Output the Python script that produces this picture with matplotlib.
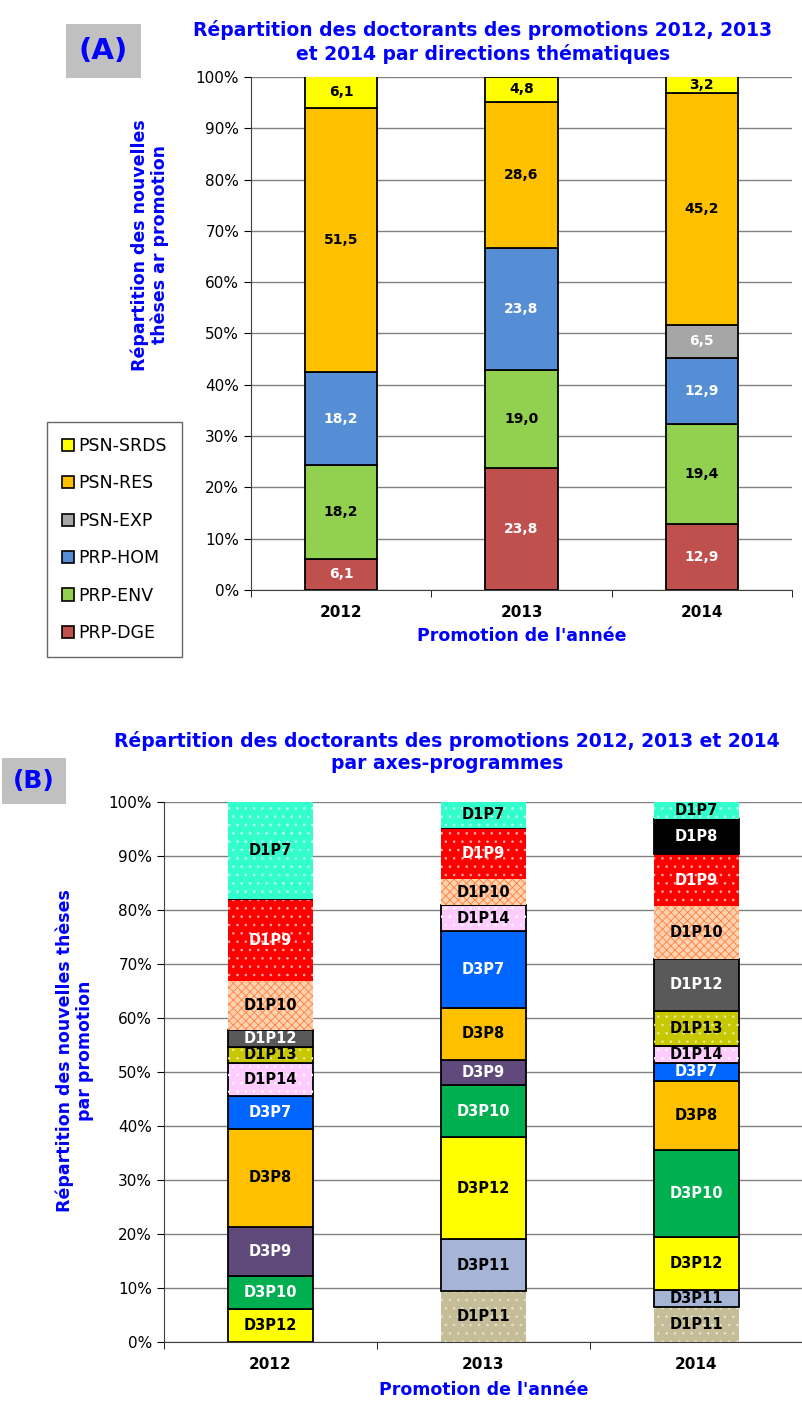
import matplotlib
matplotlib.use("Agg")
import matplotlib.pyplot as plt
import numpy as np
from matplotlib.patches import Patch

# ---- data, panel A (percent of each promotion)
years = ["2012", "2013", "2014"]
prp_dge = [6.1, 23.8, 12.9]
prp_env = [18.2, 19.0, 19.4]
prp_hom = [18.2, 23.8, 12.9]
psn_exp = [0.0, 0.0, 6.5]
psn_res = [51.5, 28.6, 45.2]
psn_srds = [6.1, 4.8, 3.2]

# ---- data, panel B (percent of each promotion), bottom to top
d1p11 = [0.0, 9.5, 6.5]
d3p11 = [0.0, 9.5, 3.2]
d3p12 = [6.1, 19.0, 9.7]
d3p10 = [6.1, 9.5, 16.1]
d3p9 = [9.1, 4.8, 0.0]
d3p8 = [18.2, 9.5, 12.9]
d3p7 = [6.1, 14.3, 3.2]
d1p14 = [6.1, 4.8, 3.2]
d1p13 = [3.0, 0.0, 6.5]
d1p12 = [3.0, 0.0, 9.7]
d1p10 = [9.1, 4.8, 9.7]
d1p9 = [15.2, 9.5, 9.7]
d1p8 = [0.0, 0.0, 6.5]
d1p7 = [18.2, 4.8, 3.2]

BLUE = "#0000ff"
GRID = "#808080"


def style_axes(ax):
    ax.set_ylim(0, 100)
    ax.set_yticks(np.arange(0, 101, 10))
    ax.set_yticklabels([f"{v}%" for v in range(0, 101, 10)], fontsize=11)
    ax.yaxis.grid(True, color=GRID, linewidth=1)
    ax.set_axisbelow(True)
    ax.spines["top"].set_visible(False)
    ax.spines["right"].set_visible(False)
    ax.spines["left"].set_color("#404040")
    ax.spines["bottom"].set_color("#404040")
    ax.set_xticks(range(len(years)))
    ax.set_xticklabels(years, fontsize=11, fontweight="bold")
    ax.tick_params(axis="x", which="major", length=0, pad=11)
    ax.set_xticks([-0.5, 0.5, 1.5, 2.5], minor=True)
    ax.tick_params(axis="x", which="minor", length=5, direction="out")
    ax.tick_params(axis="y", length=5, direction="out")


def plot_panel_a(fig):
    ax = fig.add_axes([0.3126, 0.5807, 0.6737, 0.3646])
    x = np.arange(len(years))
    series = [
        ("PRP-DGE", prp_dge, "#c0504d", "white"),
        ("PRP-ENV", prp_env, "#92d050", "black"),
        ("PRP-HOM", prp_hom, "#558ed5", "white"),
        ("PSN-EXP", psn_exp, "#a6a6a6", "white"),
        ("PSN-RES", psn_res, "#ffc000", "black"),
        ("PSN-SRDS", psn_srds, "#ffff00", "black"),
    ]
    bottom = np.zeros(len(years))
    for name, vals, color, tcolor in series:
        vals = np.array(vals)
        ax.bar(x, vals, 0.4, bottom=bottom, color=color, edgecolor="black",
               linewidth=1.3, zorder=2)
        for i, v in enumerate(vals):
            if v > 0:
                ax.text(x[i], bottom[i] + v / 2, f"{v:.1f}".replace(".", ","),
                        ha="center", va="center", fontsize=10,
                        fontweight="bold", color=tcolor, zorder=3)
        bottom += vals
    ax.set_xlim(-0.5, 2.5)
    style_axes(ax)
    ax.set_xlabel("Promotion de l'année", color=BLUE, fontsize=12.5,
                  fontweight="bold", labelpad=5)

    fig.text(0.601, 0.986, "Répartition des doctorants des promotions 2012, 2013\n"
             "et 2014 par directions thématiques", ha="center", va="top",
             color=BLUE, fontsize=13.5, fontweight="bold", linespacing=1.25)
    fig.text(0.187, 0.826, "Répartition des nouvelles\nthèses ar promotion",
             ha="center", va="center", rotation=90, color=BLUE, fontsize=12.5,
             fontweight="bold", linespacing=1.1)
    fig.text(0.129, 0.9635, "(A)", ha="center", va="center", color=BLUE,
             fontsize=21, fontweight="bold",
             bbox=dict(boxstyle="square,pad=0.45", facecolor="#c0c0c0",
                       edgecolor="none"))

    handles = [Patch(facecolor=c, edgecolor="black", linewidth=1.2, label=n)
               for n, _, c, _ in reversed(series)]
    fig.legend(handles=handles, loc="upper left",
               bbox_to_anchor=(0.059, 0.7), fontsize=12.5, frameon=True,
               fancybox=False, edgecolor="#404040", handlelength=0.7,
               handleheight=0.7, handletextpad=0.25, labelspacing=1.12,
               borderpad=0.85, borderaxespad=0)


def plot_panel_b(fig):
    ax = fig.add_axes([0.2042, 0.0462, 0.7958, 0.3838])
    x = np.arange(len(years))
    # name, values, face colour, text colour, hatch, hatch colour
    series = [
        ("D1P11", d1p11, "#c4bd97", "black", "..", "#e6e2d0"),
        ("D3P11", d3p11, "#a6b5d6", "black", None, None),
        ("D3P12", d3p12, "#ffff00", "black", None, None),
        ("D3P10", d3p10, "#00b050", "white", None, None),
        ("D3P9", d3p9, "#604a7b", "white", None, None),
        ("D3P8", d3p8, "#ffc000", "black", None, None),
        ("D3P7", d3p7, "#0066ff", "white", None, None),
        ("D1P14", d1p14, "#ffccff", "black", "..", "white"),
        ("D1P13", d1p13, "#c8c800", "black", "..", "#e8e8a0"),
        ("D1P12", d1p12, "#595959", "white", None, None),
        ("D1P10", d1p10, "#ffd2b0", "black", "xxxx", "#ff8040"),
        ("D1P9", d1p9, "#ff0000", "white", "..", "#ffb0b0"),
        ("D1P8", d1p8, "#000000", "white", None, None),
        ("D1P7", d1p7, "#33ffcc", "black", "..", "#c0fff0"),
    ]
    bottom = np.zeros(len(years))
    plt.rcParams["hatch.linewidth"] = 0.6
    for name, vals, color, tcolor, hatch, hcolor in series:
        vals = np.array(vals)
        edge = "none" if name in ("D1P7", "D1P9", "D1P10", "D1P11") else "black"
        ax.bar(x, vals, 0.4, bottom=bottom, color=color, edgecolor=edge,
               linewidth=1.3, zorder=2)
        if hatch:
            ax.bar(x, vals, 0.4, bottom=bottom, color="none", edgecolor=hcolor,
                   hatch=hatch, linewidth=0, zorder=2)
        for i, v in enumerate(vals):
            if v > 0:
                ax.text(x[i], bottom[i] + v / 2, name, ha="center",
                        va="center", fontsize=10.5, fontweight="bold",
                        color=tcolor, zorder=3)
        bottom += vals
    ax.set_xlim(-0.5, 2.46)
    style_axes(ax)
    ax.set_xlabel("Promotion de l'année", color=BLUE, fontsize=12.5,
                  fontweight="bold", labelpad=6)

    fig.text(0.557, 0.4805, "Répartition des doctorants des promotions 2012, 2013 et 2014\n"
             "par axes-programmes", ha="center", va="top", color=BLUE,
             fontsize=13.5, fontweight="bold", linespacing=1.2)
    fig.text(0.093, 0.253, "Répartition des nouvelles thèses\npar promotion",
             ha="center", va="center", rotation=90, color=BLUE, fontsize=12.5,
             fontweight="bold", linespacing=1.1)
    fig.text(0.042, 0.445, "(B)", ha="center", va="center", color=BLUE,
             fontsize=18, fontweight="bold",
             bbox=dict(boxstyle="square,pad=0.45", facecolor="#c0c0c0",
                       edgecolor="none"))


def main():
    fig = plt.figure(figsize=(8.03, 14.07), dpi=100)
    plot_panel_a(fig)
    plot_panel_b(fig)
    fig.savefig("out.png", dpi=100)


if __name__ == "__main__":
    main()
